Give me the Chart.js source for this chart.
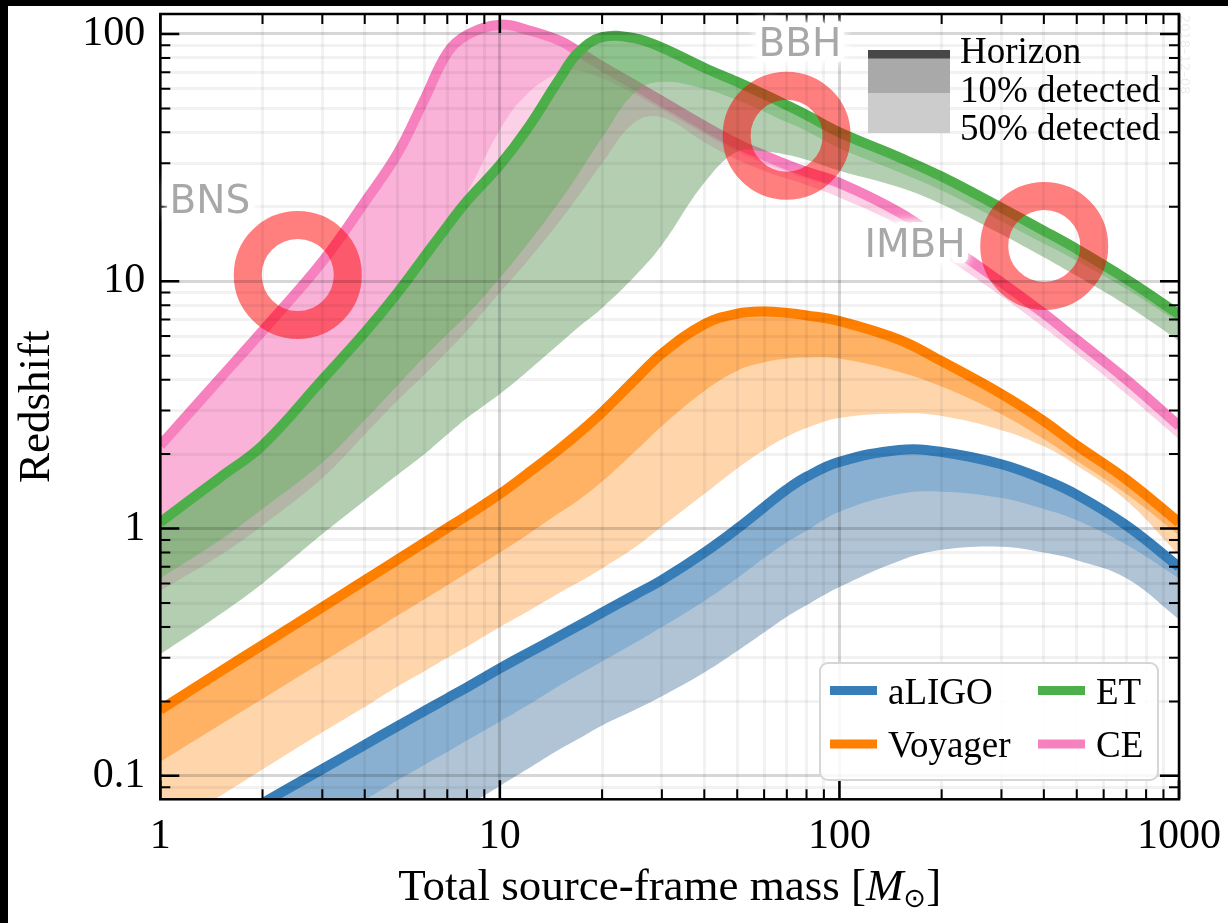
<!DOCTYPE html>
<html>
<head>
<meta charset="utf-8">
<script src="https://cdn.jsdelivr.net/npm/chart.js@4.4.0/dist/chart.umd.min.js"></script>
<style>
  body { margin: 0; background: #000; }
  #wrap { position: absolute; left: 8px; top: 6px; width: 1220px; height: 917px; background: #fff; }
</style>
</head>
<body>
<div id="wrap"><canvas id="myChart" width="1220" height="917"></canvas></div>
<script>
// total source-frame mass [M_sun] at which the curves were read
const masses = [1, 1.5, 2, 3, 4, 5, 6, 7, 8, 10, 12, 15, 17, 20, 25, 30, 40, 50, 60, 70, 80, 100, 150, 200, 300, 400, 500, 700, 1000];

// redshift: horizon, 10% detected, 50% detected
const aligoHorizon = [0.045, 0.061, 0.0775, 0.1065, 0.1335, 0.159, 0.183, 0.206, 0.228, 0.272, 0.312, 0.368, 0.404, 0.457, 0.54, 0.62, 0.80, 1.0, 1.22, 1.44, 1.62, 1.86, 2.08, 2.04, 1.82, 1.58, 1.37, 1.03, 0.70];
const aligo10 = [0.026, 0.036, 0.046, 0.064, 0.08, 0.096, 0.111, 0.125, 0.139, 0.166, 0.192, 0.232, 0.256, 0.29, 0.345, 0.40, 0.51, 0.63, 0.76, 0.88, 0.98, 1.17, 1.38, 1.41, 1.33, 1.20, 1.08, 0.86, 0.63];
const aligo50 = [0.012, 0.0173, 0.0224, 0.0322, 0.0415, 0.0505, 0.059, 0.0673, 0.0754, 0.091, 0.106, 0.128, 0.141, 0.16, 0.185, 0.21, 0.262, 0.32, 0.38, 0.44, 0.49, 0.58, 0.74, 0.82, 0.845, 0.80, 0.745, 0.63, 0.43];

const voyagerHorizon = [0.185, 0.264, 0.338, 0.481, 0.618, 0.749, 0.878, 1.005, 1.128, 1.38, 1.66, 2.1, 2.42, 2.95, 4.0, 5.1, 6.7, 7.4, 7.55, 7.45, 7.28, 6.9, 5.8, 4.75, 3.5, 2.72, 2.17, 1.58, 1.06];
const voyager10 = [0.114, 0.161, 0.205, 0.289, 0.368, 0.445, 0.518, 0.59, 0.661, 0.80, 0.94, 1.16, 1.3, 1.55, 2.05, 2.6, 3.6, 4.35, 4.7, 4.87, 4.92, 4.87, 4.3, 3.75, 2.9, 2.3, 1.88, 1.38, 0.94];
const voyager50 = [0.06, 0.083, 0.106, 0.15, 0.19, 0.23, 0.265, 0.3, 0.333, 0.40, 0.46, 0.55, 0.605, 0.69, 0.84, 1.02, 1.38, 1.75, 2.08, 2.35, 2.55, 2.8, 2.92, 2.85, 2.5, 2.15, 1.8, 1.3, 0.78];

const etHorizon = [1.06, 1.61, 2.17, 4.0, 6.2, 9.0, 12.6, 16.7, 21.1, 29.5, 41, 66, 84, 97, 96, 88, 73, 64, 57, 51.5, 47, 40, 31.7, 26.5, 19.8, 16, 13.5, 10.2, 7.35];
const et10 = [0.63, 0.9, 1.2, 1.85, 2.75, 3.8, 4.95, 6.1, 7.3, 10.3, 14, 21, 27, 38, 58, 64, 60, 54, 48.5, 44, 40.5, 34.5, 27.6, 23.3, 17.5, 14.2, 12.1, 9.3, 6.8];
const et50 = [0.31, 0.45, 0.6, 0.95, 1.3, 1.65, 2.0, 2.4, 2.8, 3.5, 4.3, 5.6, 6.5, 7.8, 10.5, 14, 25, 33.5, 33.5, 32.5, 31, 28, 24, 20.5, 15.5, 12.5, 10.5, 8, 5.75];

const ceHorizon = [2.17, 4.05, 6.3, 12, 20.9, 32.9, 54.5, 83.8, 99, 109, 104, 94, 85, 74, 62, 53.5, 42.5, 36, 32.3, 29.6, 27.7, 25, 19, 14.6, 9.9, 7.4, 5.8, 4.0, 2.6];
const ce10 = [1.12, 1.63, 2.26, 4.25, 6.55, 9.3, 13.4, 17.9, 22.8, 41, 57, 70, 71, 66, 57, 49.5, 39.5, 33.5, 30, 27.8, 26, 23.6, 18.3, 13.9, 9.4, 7.0, 5.5, 3.8, 2.47];
const ce50 = [0.56, 0.78, 1.03, 1.6, 2.4, 3.3, 4.2, 5.2, 6.3, 9, 12, 17.5, 22, 30, 44, 46, 36.5, 31, 28, 26, 24.5, 21.8, 16.8, 12.8, 8.7, 6.5, 5.1, 3.5, 2.3];

const detectorNames = ['aLIGO', 'Voyager', 'ET', 'CE'];
const bandNames = ['Horizon', '10% detected', '50% detected'];

// source classes marked with rings
const sourceNames = ['BNS', 'BBH', 'IMBH'];
const sourceMass = [2.54, 69.9, 401];
const sourceZ = [10.6, 38.8, 13.9];
const sourceLabelMass = [1.40, 76.5, 167];
const sourceLabelZ = [18.8, 81.8, 12.5];

const xTickValues = [1, 10, 100, 1000];
const xTickLabels = ['1', '10', '100', '1000'];
const yTickValues = [0.1, 1, 10, 100];
const yTickLabels = ['0.1', '1', '10', '100'];

const colors = ['#377eb8', '#ff7f00', '#4daf4a', '#f781bf'];
// fill of the 10% band (horizon -> 10%) and of the 50% band (horizon -> 50%), stacked
const fills10 = ['rgba(70,140,200,0.36)', 'rgba(255,127,0,0.42)', 'rgba(77,175,74,0.36)', 'rgba(247,129,191,0.38)'];
const fills50 = ['rgba(80,125,165,0.45)', 'rgba(255,127,0,0.33)', 'rgba(95,150,92,0.47)', 'rgba(247,129,191,0.37)'];
const serif = "'Liberation Serif', 'Times New Roman', serif";

const curves = [
  [aligoHorizon, aligo10, aligo50],
  [voyagerHorizon, voyager10, voyager50],
  [etHorizon, et10, et50],
  [ceHorizon, ce10, ce50]
];

function pts(vals) {
  return masses.map((m, i) => ({x: m, y: vals[i]}));
}

function gridValues(lo, hi) {
  let out = [];
  for (let k = lo; k < hi; ++k)
    for (let s = 1; s < 10; ++s) out.push(Number((s * Math.pow(10, k)).toPrecision(6)));
  out.push(Math.pow(10, hi));
  return out;
}
const xGrid = gridValues(0, 3);
const yGrid = [0.09].concat(gridValues(-1, 2));

function isDecade(v) {
  let l = Math.log10(v);
  return Math.abs(l - Math.round(l)) < 1e-6;
}

// first dataset is drawn on top, so rings go first and CE last
let datasets = [];
datasets.push({
  label: 'sources',
  data: sourceMass.map((m, i) => ({x: m, y: sourceZ[i]})),
  showLine: false,
  pointRadius: 50,
  pointHoverRadius: 50,
  pointBorderWidth: 28,
  pointBorderColor: 'rgba(255,0,0,0.5)',
  pointBackgroundColor: 'rgba(0,0,0,0)',
  clip: 0
});
for (let d = 0; d < curves.length; ++d) {
  let hIndex = datasets.length;
  datasets.push({
    label: detectorNames[d],
    data: pts(curves[d][0]),
    borderColor: colors[d],
    borderWidth: 10,
    borderCapStyle: 'butt',
    fill: false,
    pointRadius: 0,
    tension: 0.4,
    clip: 0
  });
  for (let b = 1; b < 3; ++b) {
    datasets.push({
      label: detectorNames[d] + ' ' + bandNames[b],
      data: pts(curves[d][b]),
      borderColor: 'rgba(0,0,0,0)',
      borderWidth: 0,
      backgroundColor: b === 1 ? fills10[d] : fills50[d],
      fill: {target: hIndex},
      pointRadius: 0,
      tension: 0.4,
      clip: 0
    });
  }
}

function gridColor(ctx) {
  if (!ctx.tick) return 'rgba(0,0,0,0)';
  return isDecade(ctx.tick.value) ? 'rgba(0,0,0,0.16)' : 'rgba(0,0,0,0.05)';
}

function glowText(ctx, text, px, py) {
  ctx.save();
  ctx.font = "39px 'DejaVu Sans', sans-serif";
  ctx.textAlign = 'center';
  ctx.textBaseline = 'alphabetic';
  ctx.lineJoin = 'round';
  ctx.shadowColor = '#ffffff';
  ctx.shadowBlur = 10;
  ctx.strokeStyle = 'rgba(255,255,255,0.85)';
  ctx.lineWidth = 12;
  ctx.strokeText(text, px, py);
  ctx.strokeText(text, px, py);
  ctx.shadowBlur = 0;
  ctx.fillStyle = '#a8a8a8';
  ctx.fillText(text, px, py);
  ctx.restore();
}

const decor = {
  id: 'decor',
  afterDraw(chart) {
    const ctx = chart.ctx;
    const a = chart.chartArea;
    const x = chart.scales.x, y = chart.scales.y;
    ctx.save();

    // inward ticks on all four sides
    ctx.strokeStyle = '#000';
    xGrid.forEach(v => {
      let px = x.getPixelForValue(v);
      let len = isDecade(v) ? 19 : 10;
      ctx.lineWidth = isDecade(v) ? 2.5 : 2;
      ctx.beginPath();
      ctx.moveTo(px, a.bottom); ctx.lineTo(px, a.bottom - len);
      ctx.moveTo(px, a.top); ctx.lineTo(px, a.top + len);
      ctx.stroke();
    });
    yGrid.forEach(v => {
      let py = y.getPixelForValue(v);
      let len = isDecade(v) ? 19 : 10;
      ctx.lineWidth = isDecade(v) ? 2.5 : 2;
      ctx.beginPath();
      ctx.moveTo(a.left, py); ctx.lineTo(a.left + len, py);
      ctx.moveTo(a.right, py); ctx.lineTo(a.right - len, py);
      ctx.stroke();
    });
    ctx.lineWidth = 2.5;
    ctx.strokeRect(a.left, a.top, a.right - a.left, a.bottom - a.top);

    // tick labels
    ctx.fillStyle = '#000';
    ctx.font = '42px ' + serif;
    ctx.textBaseline = 'alphabetic';
    ctx.textAlign = 'center';
    xTickValues.forEach((v, i) => ctx.fillText(xTickLabels[i], x.getPixelForValue(v), a.bottom + 49));
    ctx.textAlign = 'right';
    yTickValues.forEach((v, i) => ctx.fillText(yTickLabels[i], a.left - 15, y.getPixelForValue(v) + 11));

    // axis titles
    ctx.save();
    ctx.translate(41, (a.top + a.bottom) / 2);
    ctx.rotate(-Math.PI / 2);
    ctx.textAlign = 'center';
    ctx.font = '45px ' + serif;
    ctx.fillText('Redshift', 0, 0);
    ctx.restore();

    const p1 = 'Total source-frame mass [';
    ctx.textAlign = 'left';
    ctx.font = '45px ' + serif;
    let w1 = ctx.measureText(p1).width;
    let w3 = ctx.measureText(']').width;
    ctx.font = 'italic 45px ' + serif;
    let wM = ctx.measureText('M').width;
    ctx.font = "27px 'DejaVu Sans', sans-serif";
    let wS = ctx.measureText('\u2299').width;
    let sx = (a.left + a.right) / 2 - (w1 + wM + wS + w3) / 2;
    let by = 894;
    ctx.font = '45px ' + serif;
    ctx.fillText(p1, sx, by);
    ctx.font = 'italic 45px ' + serif;
    ctx.fillText('M', sx + w1, by);
    ctx.font = "27px 'DejaVu Sans', sans-serif";
    ctx.fillText('\u2299', sx + w1 + wM, by + 7);
    ctx.font = '45px ' + serif;
    ctx.fillText(']', sx + w1 + wM + wS, by);

    // band legend (top right)
    ctx.fillStyle = '#cccccc';
    ctx.fillRect(860, 44, 82, 83);
    ctx.fillStyle = '#a9a9a9';
    ctx.fillRect(860, 44, 82, 43);
    ctx.fillStyle = '#474747';
    ctx.fillRect(860, 44, 82, 8.5);
    ctx.fillStyle = '#000';
    ctx.font = '37px ' + serif;
    bandNames.forEach((t, i) => ctx.fillText(t, 952, 57 + i * 38.5));

    // detector legend (bottom right)
    let bx = 812, byy = 657, bw = 338, bh = 117, r = 8;
    ctx.beginPath();
    ctx.moveTo(bx + r, byy);
    ctx.arcTo(bx + bw, byy, bx + bw, byy + bh, r);
    ctx.arcTo(bx + bw, byy + bh, bx, byy + bh, r);
    ctx.arcTo(bx, byy + bh, bx, byy, r);
    ctx.arcTo(bx, byy, bx + bw, byy, r);
    ctx.closePath();
    ctx.fillStyle = 'rgba(255,255,255,0.85)';
    ctx.fill();
    ctx.strokeStyle = '#d6d6d6';
    ctx.lineWidth = 2;
    ctx.stroke();
    const colX = [822, 1030];
    const rowY = [684.5, 738];
    ctx.lineWidth = 9;
    ctx.font = '37px ' + serif;
    detectorNames.forEach((n, i) => {
      let cx = colX[Math.floor(i / 2)], cy = rowY[i % 2];
      ctx.strokeStyle = colors[i];
      ctx.beginPath();
      ctx.moveTo(cx, cy); ctx.lineTo(cx + 47, cy);
      ctx.stroke();
      ctx.fillStyle = '#000';
      ctx.fillText(n, cx + 58, cy + 13);
    });

    // source labels with white halo
    sourceNames.forEach((n, i) => {
      glowText(ctx, n, x.getPixelForValue(sourceLabelMass[i]), y.getPixelForValue(sourceLabelZ[i]));
    });

    // faint date stamp
    ctx.save();
    ctx.translate(1176, 9);
    ctx.rotate(Math.PI / 2);
    ctx.font = "13px 'DejaVu Sans', sans-serif";
    ctx.fillStyle = 'rgba(0,0,0,0.08)';
    ctx.textAlign = 'left';
    ctx.textBaseline = 'middle';
    ctx.fillText('2018\u201312\u201308', 0, 0);
    ctx.restore();

    ctx.restore();
  }
};

const config = {
  type: 'line',
  data: {datasets: datasets},
  options: {
    responsive: false,
    animation: false,
    devicePixelRatio: 1,
    events: [],
    layout: {autoPadding: false, padding: {left: 152.3, top: 8, right: 49, bottom: 123.7}},
    plugins: {legend: {display: false}, tooltip: {enabled: false}},
    scales: {
      x: {
        type: 'logarithmic', min: 1, max: 1000,
        afterBuildTicks: s => { s.ticks = xGrid.map(v => ({value: v})); },
        afterFit: s => { s.height = 0; },
        ticks: {display: false},
        grid: {color: gridColor, lineWidth: 3, drawTicks: false, z: 1},
        border: {display: false}
      },
      y: {
        type: 'logarithmic', min: 0.0804, max: 120.4,
        afterBuildTicks: s => { s.ticks = yGrid.map(v => ({value: v})); },
        afterFit: s => { s.width = 0; },
        ticks: {display: false},
        grid: {color: gridColor, lineWidth: 3, drawTicks: false, z: 1},
        border: {display: false}
      }
    }
  },
  plugins: [decor]
};

new Chart(document.getElementById('myChart'), config);
</script>
</body>
</html>
